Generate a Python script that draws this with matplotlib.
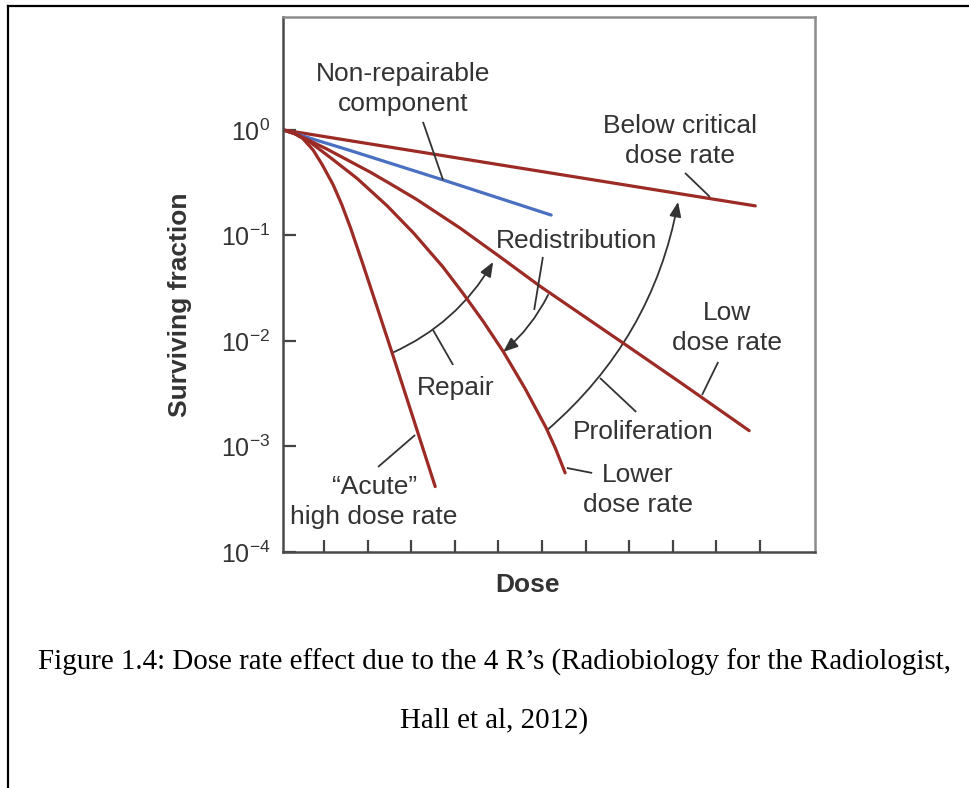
import numpy as np
import matplotlib

matplotlib.use("Agg")
import matplotlib.pyplot as plt
from matplotlib.lines import Line2D
from matplotlib.patches import FancyArrowPatch
from matplotlib.ticker import FixedLocator, FixedFormatter, NullLocator

# dose in tick units, survival as log10(surviving fraction)
CRITICAL_DOSE = [0.0, 10.83]
CRITICAL_LOG_SF = [0.0, -0.72]

NONREP_DOSE = [0.0, 1.5, 3.67, 6.15]
NONREP_LOG_SF = [0.0, -0.19, -0.474, -0.807]

LOW_DOSE = [0.0, 0.3, 0.6, 1.0, 1.5, 2.0, 2.5, 3.07, 4.06, 5.0, 5.89, 7.8, 9.1, 10.69]
LOW_LOG_SF = [0.0, -0.04, -0.10, -0.18, -0.29, -0.40, -0.52, -0.66, -0.93, -1.21, -1.48,
              -2.02, -2.39, -2.85]

LOWER_DOSE = [0.0, 0.3, 0.6, 1.08, 1.7, 2.39, 3.0, 3.67, 4.13, 4.6, 5.05, 5.55, 6.03, 6.25, 6.47]
LOWER_LOG_SF = [0.0, -0.04, -0.11, -0.26, -0.46, -0.72, -0.98, -1.30, -1.55, -1.82, -2.10,
                -2.45, -2.82, -3.02, -3.25]

ACUTE_DOSE = [0.0, 0.2, 0.45, 0.69, 0.9, 1.15, 1.35, 1.55, 1.83, 2.15, 2.5, 3.0, 3.49]
ACUTE_LOG_SF = [0.0, -0.02, -0.08, -0.19, -0.33, -0.52, -0.71, -0.93, -1.27, -1.67, -2.11,
                -2.75, -3.38]

Y_TICKS = [1e-4, 1e-3, 1e-2, 1e-1, 1e0]
Y_TICK_LABELS = [r"$10^{-4}$", r"$10^{-3}$", r"$10^{-2}$", r"$10^{-1}$", r"$10^{0}$"]
X_TICKS = list(np.arange(11) + 0.94)

RED = "#9c2b25"
BLUE = "#4a70c2"
INK = "#333333"
FONT = "Liberation Sans"
FS = 19

plt.rcParams.update(
    {
        "font.family": FONT,
        "mathtext.fontset": "custom",
        "mathtext.rm": FONT,
        "mathtext.default": "regular",
    }
)


def sf(values):
    return 10.0 ** np.asarray(values, dtype=float)


def leader(ax, p0, p1):
    ax.plot([p0[0], p1[0]], [10.0 ** p0[1], 10.0 ** p1[1]], color=INK, lw=1.3, solid_capstyle="butt")


def curved_arrow(ax, p0, p1, rad):
    arrow = FancyArrowPatch(
        (p0[0], 10.0 ** p0[1]),
        (p1[0], 10.0 ** p1[1]),
        connectionstyle=f"arc3,rad={rad}",
        arrowstyle="-|>,head_length=0.55,head_width=0.22",
        mutation_scale=16,
        lw=1.3,
        color=INK,
        shrinkA=0,
        shrinkB=0,
    )
    ax.add_patch(arrow)


def label(ax, x, logy, text):
    ax.text(x, 10.0 ** logy, text, ha="center", va="center", fontsize=FS, color=INK,
            linespacing=1.32)


fig = plt.figure(figsize=(9.69, 7.88), dpi=100)
ax = fig.add_axes([283 / 969, 1 - 552 / 788, (815 - 283) / 969, (552 - 17) / 788])

for dose, log_sf, color in [
    (CRITICAL_DOSE, CRITICAL_LOG_SF, RED),
    (NONREP_DOSE, NONREP_LOG_SF, BLUE),
    (LOW_DOSE, LOW_LOG_SF, RED),
    (LOWER_DOSE, LOWER_LOG_SF, RED),
    (ACUTE_DOSE, ACUTE_LOG_SF, RED),
]:
    ax.plot(dose, sf(log_sf), color=color, lw=2.3, solid_capstyle="round", solid_joinstyle="round")

ax.set_yscale("log")
ax.set_xlim(0, 12.2)
ax.set_ylim(1e-4, 10 ** 1.07)
ax.xaxis.set_major_locator(FixedLocator(X_TICKS))
ax.xaxis.set_minor_locator(NullLocator())
ax.set_xticklabels([])
ax.yaxis.set_major_locator(FixedLocator(Y_TICKS))
ax.yaxis.set_major_formatter(FixedFormatter(Y_TICK_LABELS))
ax.yaxis.set_minor_locator(NullLocator())
ax.tick_params(direction="in", length=9, width=1.6, color="#444444", labelsize=18,
               labelcolor=INK, pad=9)
for side in ("left", "bottom"):
    ax.spines[side].set_color("#4a4a4a")
    ax.spines[side].set_linewidth(1.8)
for side in ("top", "right"):
    ax.spines[side].set_color("#8c8c8c")
    ax.spines[side].set_linewidth(1.8)

ax.set_ylabel("Surviving fraction", fontsize=FS, fontweight="bold", color=INK)
ax.yaxis.set_label_coords(-0.171, 0.462)
ax.set_xlabel("Dose", fontsize=FS, fontweight="bold", color=INK)
ax.xaxis.set_label_coords(0.459, -0.040)

# annotations
label(ax, 2.75, 0.389, "Non-repairable\ncomponent")
leader(ax, (3.21, 0.076), (3.67, -0.474))

label(ax, 9.11, -0.104, "Below critical\ndose rate")
leader(ax, (9.22, -0.408), (9.79, -0.635))

label(ax, 6.74, -1.052, "Redistribution")
leader(ax, (5.96, -1.204), (5.76, -1.706))
curved_arrow(ax, (6.08, -1.564), (5.05, -2.104), -0.1)

label(ax, 3.97, -2.445, "Repair")
leader(ax, (3.44, -1.896), (3.90, -2.227))
curved_arrow(ax, (2.50, -2.114), (4.82, -1.251), 0.16)

label(ax, 8.26, -2.863, "Proliferation")
leader(ax, (7.27, -2.351), (8.10, -2.673))
curved_arrow(ax, (6.06, -2.844), (9.06, -0.682), 0.175)

label(ax, 10.18, -1.877, "Low\ndose rate")
leader(ax, (9.98, -2.199), (9.61, -2.512))

label(ax, 8.14, -3.412, "Lower\ndose rate")
leader(ax, (6.51, -3.204), (7.09, -3.251))

label(ax, 2.09, -3.526, "\u201cAcute\u201d\nhigh dose rate")
leader(ax, (2.18, -3.194), (3.03, -2.891))

# page frame and caption
fig.add_artist(Line2D([7.5 / 969, 7.5 / 969], [0, 1 - 6 / 788], color="black", lw=1.6))
fig.add_artist(Line2D([7.5 / 969, 1], [1 - 6 / 788, 1 - 6 / 788], color="black", lw=1.6))
fig.text(0.51, 1 - 662 / 788,
         "Figure 1.4: Dose rate effect due to the 4 R\u2019s (Radiobiology for the Radiologist,",
         ha="center", va="center", fontsize=20.9, family="Liberation Serif", color="black")
fig.text(0.51, 1 - 721 / 788, "Hall et al, 2012)",
         ha="center", va="center", fontsize=20.9, family="Liberation Serif", color="black")

fig.savefig("out.png", dpi=100, facecolor="white")
